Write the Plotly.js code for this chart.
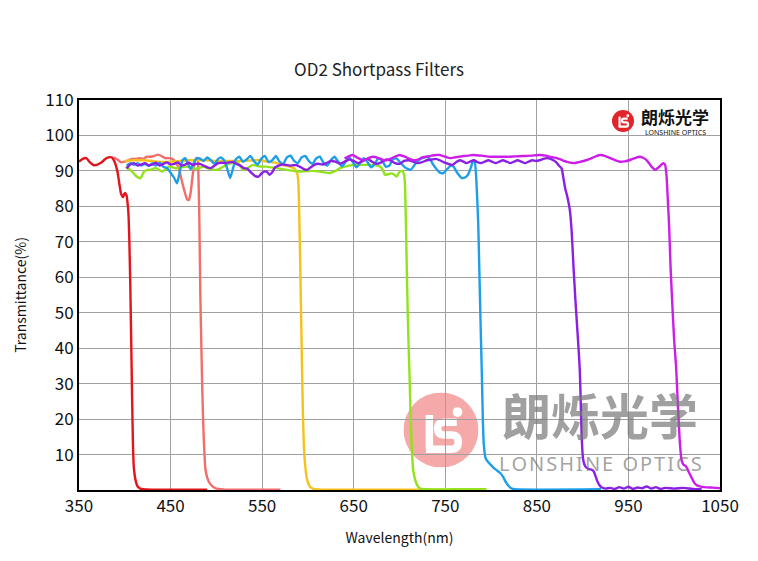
<!DOCTYPE html>
<html>
<head>
<meta charset="utf-8">
<script src="https://cdn.plot.ly/plotly-3.0.1.min.js"></script>
<style>html,body{margin:0;padding:0;background:#fff;}#chart{width:758px;height:561px;}</style>
</head>
<body>
<div id="chart"></div>
<script>
// ---- data (wavelength nm, transmittance %) ----
const redWl = [350,354,358,362,366,370,374,378,382,386,389,392,394,396,398,400,402,403,404,405,406,407,408,409,410,412,414,417,420,430,450,470,490];
const redT  = [92.6,93.4,93.6,92.4,91.6,91.8,92.3,93.2,93.8,93.8,92.5,89.8,86.5,83.5,82.6,83.8,83.0,81,78,70,58,42,26,12,6,2.5,1,0.4,0.2,0.1,0.1,0.1,0.1];

const salmonWl = [388,392,396,400,404,408,412,416,420,424,428,432,436,440,444,448,452,456,459,462,465,468,470,472,474,476,478,479.5,480.5,481.5,482.5,483.5,484.5,485.5,486.5,488,490,493,497,502,510,540,570];
const salmonT  = [93.8,93.2,92.4,92.6,93,93.4,93.4,93.6,93.4,94,94,94.2,94.6,94.2,93.6,93.6,93.4,92.2,90.8,87.5,84.5,82,81.8,84,88.5,92,93.6,93.6,88,75,55,42,30,20,13,6,3.5,1.8,0.8,0.3,0.1,0.1,0.1];

const yellowWl = [400,410,420,430,440,450,460,470,480,490,500,510,520,530,540,548,556,566,574,580,585,588,589.5,590.5,591.5,592.5,593.5,594.5,595.5,597,599,602,606,615,700,790];
const yellowT  = [92.8,93,93,92.8,92.5,92.6,92.8,93,93,93,92.8,92.8,92.8,92.8,93,93,92.6,92.2,91.6,91.2,90.7,89.5,87,78,65,50,35,22,13,7,3,1,0.3,0.1,0.1,0.1];

const greenWl = [401,406,410,413,417,421,425,428,432,435,438,441,445,448,452,456,461,466,472,477,481,486,490,495,500,505,511,516,522,526,529,533,537,540,545,550,555,560,566,572,577,584,591,598,605,613,619,624,630,635,642,649,658,668,674,679,682,684,688,691,694,697,700,703,705,706,707,708,709,710,711,712,713,714,715,717,719,722,728,760,795];
const greenT  = [91.2,90.3,89.2,88.4,87.9,89.8,90.3,90.3,90.7,90.7,90.2,89.8,90.6,91.2,91,90.7,91,91.2,91,90.6,90.8,91.2,90.8,90.4,90.3,90.8,91.7,92.2,92.6,91.5,90.3,90.6,91.3,91.7,91.4,91.2,91.2,91,90.8,90.5,90.3,90,89.8,89.9,90,89.8,89.5,89.4,90,90.8,91.3,91.7,91.7,91.7,91.6,91.2,90.2,88.9,89.1,89.3,89,88.4,89.8,90,89,86,75,62,50,40,32,22,14,9,5.5,3,1.5,0.5,0.2,0.2,0.2];

const blueWl = [402,406,410,414,418,422,426,430,434,438,442,446,450,454,457,459,461,463,466,469,472,475,478,482,486,490,494,498,502,505,509,512,515,518,521,525,529,533,537,541,545,549,553,557,561,565,569,573,577,581,585,589,593,597,601,605,609,613,617,621,625,629,633,637,641,645,649,653,657,661,665,669,673,677,681,685,689,693,697,700,706,712,716,719,724,730,734,737,741,744,748,752,756,759,763,768,772,775,778,780,782,784,786,787,788,789,790,791,792,794,797,800,803,806,810,813,816,819,822,826,920];
const blueT  = [91.5,92.2,91.7,92.2,91.5,92,91.4,92.2,91.5,92.3,91.2,90.8,89.5,88,86.5,88.5,91,93,93.6,92,90.5,92,93.4,93.5,92.8,93.8,93,92,93.4,93.8,92.8,90.5,88,90.5,93.2,94,92.6,93.2,94.2,92.8,91.8,93.4,94.2,92.5,93,94.2,92.6,92,93.8,94.3,92.8,92.2,93.8,94.2,92.8,92,93.5,94,92.3,91.5,93,94,92.6,91.3,92.5,93.8,92.5,91,92.2,93.6,92.5,91,92,93.6,93,91.2,91.5,93.4,93.5,92.6,91,90.3,91.5,92.6,93.5,94,93,91.7,90.3,89.5,89.4,90.5,91.5,91.2,89.5,88,88.2,89,91,92.6,93,87,75,64,53,42,32,20,13,9,7.8,7,6.2,5.6,4.8,3.8,2.3,1.2,0.5,0.2,0.2];

const purpleWl = [402,406,410,414,418,422,426,430,434,438,442,446,450,454,458,462,466,470,474,478,482,486,490,494,498,502,506,510,514,518,522,526,530,534,538,542,546,549,552,555,558,561,564,568,572,576,580,584,588,591,595,599,603,607,611,616,620,625,630,635,640,645,650,655,660,665,670,675,680,685,690,695,700,705,710,715,720,725,730,735,740,744,748,751,755,758,762,766,770,773,777,781,785,789,793,797,801,805,809,813,817,821,825,829,833,837,841,845,849,853,857,861,865,868,871,874,877,879,881,883,886,888,890,892,894,896,897,898,899,900,901,903,906,910,912,914,916,918,921,925,930,935,940,945,950,955,960,965,970,975,980,985,990,1000,1010,1020,1030];
const purpleT  = [90.7,91.8,92.2,91.5,91.8,92.2,91.6,91.8,92.3,91.5,92,92.4,91.8,92,92.4,91.5,91.8,92.3,91.7,92,92,91.5,91,90.8,91.5,92.2,92.3,92.2,92.4,92.5,92,91.5,90.8,90.6,89.5,88.6,88.4,89.2,89.8,89.8,88.9,89.6,91,91.5,91.8,91.7,91.5,91.6,91.6,91.2,90.6,90.3,91,91.7,92,91.8,92.2,92.8,92.6,92,92.6,93.2,92.8,92.2,92.8,93.4,92.6,92,92.4,93.2,93,92.2,92,92.8,93,92.6,92.2,92.5,93,93.2,93.4,93,92.5,92.2,91.8,91.7,92.5,93,92.6,92.2,92.6,93,92.5,92.2,92.6,93,92.6,92.2,92.6,93,92.6,92.2,92.6,93,92.6,92.2,92.6,93,92.8,93,93.4,93.6,93.4,93,92.5,91.5,90.7,88,85,83,79,73,63,54,46,38,33,24,15,10,8,6.6,6,5.7,5.3,4,2.5,1.5,0.7,0.4,0.6,0.3,0.8,0.4,0.9,0.3,0.7,0.5,1,0.4,0.8,0.3,0.6,0.4,0.6,0.3,0.2];

const magentaWl = [640,645,649,655,660,666,671,677,683,686,690,695,700,706,711,715,720,725,730,735,740,744,750,755,760,765,770,775,780,790,799,808,817,826,835,844,853,860,864,868,872,878,884,890,896,904,910,915,919,925,930,936,941,946,951,957,962,966,970,973,976,979,982,985,988,990,991.5,993,994.5,996,998,1000,1002,1004,1006,1008,1010,1013,1016,1019,1022,1025,1030,1040,1046,1050];
const magentaT  = [93.5,94.2,94.5,93.6,93,93.6,94,93.6,93,93,93.4,94,94.5,94,93.4,93,93.2,93.8,94,94.3,94.5,94.5,94,93.6,93.8,94,94.2,94.3,94.5,94.3,94,94,94,94.1,94.2,94.3,94.5,94.3,94,93.8,93.6,93,92.5,92.2,92.5,93,93.6,94.2,94.5,94.2,93.6,93,92.6,92.7,93,93.6,94,93.7,93,92,91,90.3,90.8,91.5,92.2,91.8,89,82,74,63,52,42,35,24,14,8.5,7.2,6.6,5,3.5,2,1.3,0.9,0.7,0.6,0.5];

const seriesNames  = ['Salmon','Red','Yellow','Green','Blue','Purple','Magenta'];
const seriesColors = ['#f26e6a','#e3141c','#f5c21b','#93e21e','#1c9fe8','#8a1fe6','#cc1ee8'];
const xTicks = [350,450,550,650,750,850,950,1050];
const yTicks = [10,20,30,40,50,60,70,80,90,100,110];

const wls = [salmonWl, redWl, yellowWl, greenWl, blueWl, purpleWl, magentaWl];
const ts  = [salmonT, redT, yellowT, greenT, blueT, purpleT, magentaT];

const traces = wls.map((w,i)=>({
  x: w, y: ts[i], type:'scatter', mode:'lines', name: seriesNames[i],
  line:{color: seriesColors[i], width:2.4, shape:'spline', smoothing:0.5},
  hoverinfo:'skip'
}));

const F = '"Noto Sans CJK SC", "Noto Sans", sans-serif';

function svgURI(fill){
  const s = "<svg xmlns='http://www.w3.org/2000/svg' viewBox='0 0 100 100'>" +
    "<circle cx='50' cy='50' r='50' fill='"+fill+"'/>" +
    "<path d='M34.5 30 V75.5' fill='none' stroke='#fff' stroke-width='10'/>" +
    "<path d='M71 39.5 H54 Q45.5 39.5 45.5 48 Q45.5 56.5 54 56.5 H64 Q73 56.5 73 66 Q73 75.5 64 75.5 H30' fill='none' stroke='#fff' stroke-width='10'/>" +
    "<circle cx='72' cy='26' r='6.5' fill='#fff'/></svg>";
  return 'data:image/svg+xml;utf8,' + encodeURIComponent(s);
}

const pw = 641, ph = 390, L = 79, B = 490;
function px2paperX(p){return (p-L)/pw;}
function px2paperY(p){return (B-p)/ph;}
const spaced = 'LONSHINE OPTICS'.split('').join('\u200A');

const layout = {
  width:758, height:561,
  margin:{l:79, r:38, t:100, b:71},
  paper_bgcolor:'#ffffff', plot_bgcolor:'rgba(255,255,255,0)',
  showlegend:false,
  title:{text:'OD2 Shortpass Filters', font:{family:F, size:17, color:'#222'}, x:0.5, xref:'container', y:1-70/561, yref:'container', yanchor:'middle'},
  xaxis:{range:[350,1050], tickvals:xTicks, ticktext:xTicks.map(String), showgrid:true, gridcolor:'#a0a0a0', gridwidth:1,
         showline:true, mirror:true, linecolor:'#000', linewidth:2, ticks:'', zeroline:false,
         tickfont:{family:F, size:17, color:'#111'},
         title:{text:'Wavelength(nm)', font:{family:F, size:14, color:'#111'}, standoff:17}},
  yaxis:{range:[0,110], tickvals:yTicks, ticktext:yTicks.map(String), showgrid:true, gridcolor:'#a0a0a0', gridwidth:1,
         showline:true, mirror:true, linecolor:'#000', linewidth:2, ticks:'', zeroline:false,
         tickfont:{family:F, size:17, color:'#111'},
         title:{text:'Transmittance(%)', font:{family:F, size:14, color:'#111'}, standoff:15}},
  images:[
    {source: svgURI('#f4a0a0'), xref:'paper', yref:'paper', x:px2paperX(441), y:px2paperY(430), sizex:75/pw, sizey:75/ph, xanchor:'center', yanchor:'middle', sizing:'stretch', layer:'below', opacity:0.9},
    {source: svgURI('#e3242b'), xref:'paper', yref:'paper', x:px2paperX(623), y:px2paperY(121), sizex:22/pw, sizey:22/ph, xanchor:'center', yanchor:'middle', sizing:'stretch', layer:'above'}
  ],
  annotations:[
    {text:'朗烁光学', xref:'paper', yref:'paper', x:px2paperX(600), y:px2paperY(413), xanchor:'center', yanchor:'middle', showarrow:false,
     font:{family:'"Noto Sans CJK SC", sans-serif', size:49, color:'rgba(120,120,120,0.7)', weight:700}},
    {text:spaced, xref:'paper', yref:'paper', x:px2paperX(600), y:px2paperY(463), xanchor:'center', yanchor:'middle', showarrow:false,
     font:{family:'"Noto Sans", sans-serif', size:20, color:'rgba(110,110,110,0.65)'}},
    {text:'朗烁光学', xref:'paper', yref:'paper', x:px2paperX(675), y:px2paperY(117), xanchor:'center', yanchor:'middle', showarrow:false,
     font:{family:'"Noto Sans CJK SC", sans-serif', size:17, color:'#111', weight:700}},
    {text:'LONSHINE OPTICS', xref:'paper', yref:'paper', x:px2paperX(675), y:px2paperY(132.5), xanchor:'center', yanchor:'middle', showarrow:false,
     font:{family:'"Noto Sans", sans-serif', size:7, color:'#111'}}
  ]
};

Plotly.newPlot('chart', traces, layout, {staticPlot:true, displayModeBar:false});
</script>
</body>
</html>
